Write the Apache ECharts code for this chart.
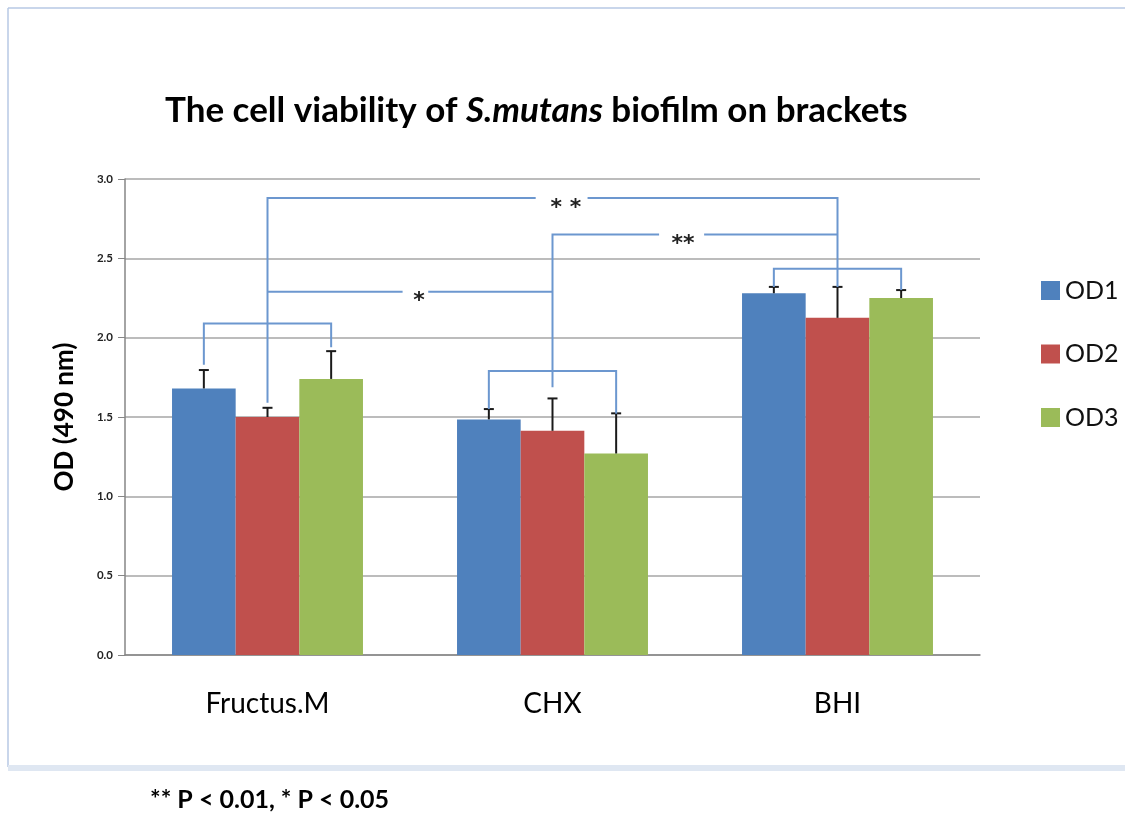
<!DOCTYPE html>
<html>
<head>
<meta charset="utf-8">
<script src="https://cdn.jsdelivr.net/npm/echarts@6/dist/echarts.min.js"></script>
<style>html,body{margin:0;padding:0;background:#fff}#chart{width:1125px;height:816px}</style>
</head>
<body>
<div id="chart"></div>
<script>
const categories = ['Fructus.M', 'CHX', 'BHI'];
const seriesNames = ['OD1', 'OD2', 'OD3'];
const od1 = [1.68, 1.485, 2.28];
const od2 = [1.50, 1.413, 2.125];
const od3 = [1.74, 1.27, 2.25];
const err1 = [0.116, 0.065, 0.04];
const err2 = [0.058, 0.204, 0.195];
const err3 = [0.175, 0.253, 0.05];
// significance brackets: ends as [category, bar], foot heights, top height
const brackets = [
	{a: [0, 0], b: [0, 2], footA: 1.83, footB: 1.94, top: 2.09},
	{a: [1, 0], b: [1, 2], footA: 1.55, footB: 1.52, top: 1.79},
	{a: [2, 0], b: [2, 2], footA: 2.32, footB: 2.30, top: 2.435},
	{a: [0, 1], b: [2, 1], footA: 1.59, footB: 2.32, top: 2.88, label: '* *', labelX: 1.547, gap: [1.441, 1.623]},
	{a: [0, 1], b: [1, 1], footA: 2.29, footB: 2.29, top: 2.29, label: '*', labelX: 1.032, gap: [0.974, 1.064]},
	{a: [1, 1], b: [2, 1], footA: 1.687, footB: 2.65, top: 2.65, label: '**', labelX: 1.958, gap: [1.874, 2.032]}
];

const font = 'Lato, "Open Sans", sans-serif';
const colors = ['#4f81bd', '#c0504d', '#9bbb59'];
const groupShare = 0.67; // part of each category taken by the 3 bars
const barW = groupShare / 3;

function barPos(cat, bar) {
	return cat + 0.5 + (bar - 1) * barW;
}

let values = [od1, od2, od3];
let errs = [err1, err2, err3];
let errData = [];
for (let s = 0; s < 3; s++) {
	for (let c = 0; c < categories.length; c++) {
		errData.push([c, s, values[s][c], errs[s][c]]);
	}
}

let chart = echarts.init(document.getElementById('chart'));

let series = seriesNames.map((name, s) => ({
	name: name,
	type: 'bar',
	data: values[s],
	barGap: '0%',
	barCategoryGap: '33%',
	itemStyle: {color: colors[s]}
}));

series.push({
	name: 'err',
	type: 'custom',
	xAxisIndex: 1,
	data: errData,
	z: 5,
	renderItem: function(params, api) {
		let d = errData[params.dataIndex];
		let x = barPos(d[0], d[1]);
		let p0 = api.coord([x, d[2]]);
		let p1 = api.coord([x, d[2] + d[3]]);
		return {
			type: 'group',
			children: [{
				type: 'line',
				shape: {x1: p0[0], y1: p0[1], x2: p1[0], y2: p1[1]},
				style: {stroke: '#1a1a1a', lineWidth: 2}
			}, {
				type: 'line',
				shape: {x1: p1[0] - 5, y1: p1[1], x2: p1[0] + 5, y2: p1[1]},
				style: {stroke: '#1a1a1a', lineWidth: 2}
			}]
		};
	}
});

series.push({
	name: 'brackets',
	type: 'custom',
	xAxisIndex: 1,
	data: brackets.map((b, i) => i),
	z: 6,
	renderItem: function(params, api) {
		let b = brackets[params.dataIndex];
		let xa = barPos(b.a[0], b.a[1]);
		let xb = barPos(b.b[0], b.b[1]);
		let lineStyle = {stroke: '#6c97cf', lineWidth: 2, fill: null};
		let kids = [];
		let pA = api.coord([xa, b.footA]);
		let tA = api.coord([xa, b.top]);
		let tB = api.coord([xb, b.top]);
		let pB = api.coord([xb, b.footB]);
		if (b.gap) {
			let g0 = api.coord([b.gap[0], b.top]);
			let g1 = api.coord([b.gap[1], b.top]);
			kids.push({type: 'polyline', shape: {points: [pA, tA, g0]}, style: lineStyle});
			kids.push({type: 'polyline', shape: {points: [g1, tB, pB]}, style: lineStyle});
			let lp = api.coord([b.labelX, b.top]);
			kids.push({
				type: 'text',
				x: lp[0],
				y: lp[1] + 10,
				style: {
					text: b.label,
					align: 'center',
					verticalAlign: 'middle',
					font: 'bold 22px "DejaVu Sans"',
					fill: '#222'
				}
			});
		} else {
			kids.push({type: 'polyline', shape: {points: [pA, tA, tB, pB]}, style: lineStyle});
		}
		return {type: 'group', children: kids};
	}
});

let option = {
	animation: false,
	title: {
		left: 160,
		top: 88,
		text: '{a|The cell viability of }{b|S.mutans}{a| biofilm on brackets}',
		textStyle: {
			rich: {
				a: {fontFamily: font, fontWeight: 'bold', fontSize: 35, color: '#000'},
				b: {fontFamily: font, fontWeight: 'bold', fontStyle: 'italic', fontSize: 35, color: '#000'}
			}
		}
	},
	legend: {
		data: seriesNames,
		orient: 'vertical',
		left: 1036,
		top: 273,
		icon: 'rect',
		itemWidth: 19,
		itemHeight: 19,
		itemGap: 38.5,
		textStyle: {fontFamily: font, fontSize: 25, color: '#111', lineHeight: 24}
	},
	grid: {left: 125, right: 145, top: 179, bottom: 161},
	xAxis: [{
		type: 'category',
		data: categories,
		axisLine: {lineStyle: {color: '#868686', width: 1.5}},
		axisTick: {show: false},
		axisLabel: {fontFamily: font, fontSize: 28, color: '#000', margin: 35}
	}, {
		type: 'value',
		min: 0,
		max: 3,
		show: false
	}],
	yAxis: {
		type: 'value',
		min: 0,
		max: 3,
		interval: 0.5,
		name: 'OD (490 nm)',
		nameLocation: 'middle',
		nameGap: 47,
		nameTextStyle: {fontFamily: font, fontWeight: 'bold', fontSize: 26, color: '#000'},
		axisLine: {show: true, lineStyle: {color: '#868686', width: 1.5}},
		axisTick: {show: true, length: 7, lineStyle: {color: '#868686'}},
		axisLabel: {
			fontFamily: font, fontWeight: 'bold', fontSize: 11.5, color: '#222', margin: 12,
			formatter: v => v.toFixed(1)
		},
		splitLine: {lineStyle: {color: '#a6a6a6', width: 1.5}}
	},
	graphic: [
		{type: 'line', shape: {x1: 8, y1: 8, x2: 1125, y2: 8}, style: {stroke: '#b7c9e4', lineWidth: 1.5}},
		{type: 'line', shape: {x1: 8, y1: 8, x2: 8, y2: 767}, style: {stroke: '#b7c9e4', lineWidth: 1.5}},
		{type: 'rect', shape: {x: 8, y: 765, width: 1117, height: 6}, style: {fill: '#dfe7f2'}},
		{
			type: 'text', left: 150, top: 787,
			style: {text: '** P < 0.01, * P < 0.05', font: 'bold 25px ' + font, fill: '#000'}
		}
	],
	series: series
};

chart.setOption(option);
</script>
</body>
</html>
